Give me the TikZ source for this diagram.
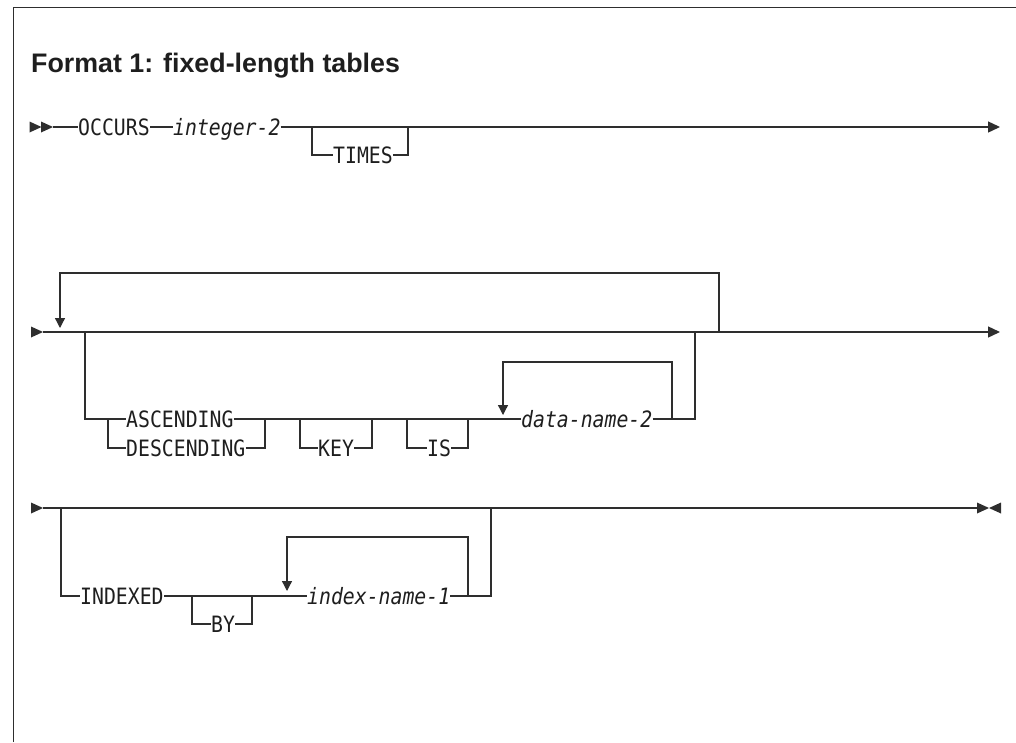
\documentclass[tikz,border=0pt]{standalone}
\usepackage{fontspec}
\setmainfont{Liberation Sans}
\newfontfamily\rrmono[FakeStretch=0.88]{DejaVu Sans Mono}
\usetikzlibrary{arrows.meta}
\definecolor{lc}{HTML}{2E2E2E}
\definecolor{tc}{HTML}{1E1E1E}
\tikzset{
  ln/.style={draw=lc, line width=1.3pt},
  tok/.style={inner sep=0pt, anchor=west, text height=16.4pt, text depth=0pt,
    font=\rrmono\fontsize{22.5}{25}\selectfont, text=tc},
  var/.style={tok, font=\rrmono\itshape\fontsize{22.5}{25}\selectfont},
  endtip/.style={-{Triangle[length=12pt,width=11pt]}},
  looptip/.style={-{Triangle[length=10pt,width=10pt]}},
}
\newcommand\rtri[1]{\fill[lc] (#1) -- ++(-12,-5.5) -- ++(0,11) -- cycle;}
\newcommand\ltri[1]{\fill[lc] (#1) -- ++(12,-5.5) -- ++(0,11) -- cycle;}
\begin{document}
\begin{tikzpicture}[x=1pt,y=-1pt]
\useasboundingbox (0,0) rectangle (1016,742);
% frame
\draw[lc, line width=1.4pt] (13.5,742) -- (13.5,7.5) -- (1016,7.5);
% title
\node[anchor=base west, inner sep=0pt, text=tc, font=\bfseries\fontsize{26.8}{30}\selectfont] (title) at (31,72) {Format 1: fixed-length tables};

% ---------------- row 1 ----------------
\coordinate (r1s) at (53,127);
\rtri{41.5,127}
\rtri{53,127}
\node[tok] (occ) at (78,127) {OCCURS};
\node[var] (int) at (173,127) {integer-2};
\node[tok] (times) at (333,155) {TIMES};
\coordinate (r1e) at (1000,127);
\coordinate (t1) at (312,127);
\coordinate (t2) at (408,127);
\draw[ln] (r1s) -- (occ.west);
\draw[ln] (occ.east) -- (int.west);
\draw[ln, endtip] (int.east) -- (r1e);
\draw[ln] (t1) |- (times.west);
\draw[ln] (times.east) -| (t2);

% ---------------- row 2 ----------------
\rtri{43,332}
\coordinate (r2s) at (43,332);
\coordinate (r2e) at (1000,332);
\draw[ln, endtip] (r2s) -- (r2e);
% outer repeat loop
\coordinate (rl1) at (719,332);
\coordinate (rl2) at (60,328);
\draw[ln, looptip] (rl1) -- (719,273) -- (60,273) -- (rl2);
% ascending / descending
\node[tok] (asc) at (126,419) {ASCENDING};
\node[tok] (desc) at (126,448) {DESCENDING};
\node[tok] (key) at (318,448) {KEY};
\node[tok] (is) at (427,448) {IS};
\node[var] (dn) at (521,419) {data-name-2};
\coordinate (b1) at (85,332);
\coordinate (b2) at (108,419);
\coordinate (b3) at (265,419);
\coordinate (k1) at (300,419);
\coordinate (k2) at (372,419);
\coordinate (i1) at (407,419);
\coordinate (i2) at (468,419);
\coordinate (dl1) at (672,419);
\coordinate (dl2) at (503,415);
\coordinate (b4) at (695,332);
\draw[ln] (b1) |- (asc.west);
\draw[ln] (b2) |- (desc.west);
\draw[ln] (desc.east) -| (b3);
\draw[ln] (asc.east) -- (dn.west);
\draw[ln] (k1) |- (key.west);
\draw[ln] (key.east) -| (k2);
\draw[ln] (i1) |- (is.west);
\draw[ln] (is.east) -| (i2);
\draw[ln, looptip] (dl1) -- (672,362) -- (503,362) -- (dl2);
\draw[ln] (dn.east) -| (b4);

% ---------------- row 3 ----------------
\rtri{43,508}
\coordinate (r3s) at (43,508);
\coordinate (r3e) at (977,508);
\draw[ln] (r3s) -- (r3e);
\rtri{989,508}
\ltri{989,508}
\node[tok] (idx) at (80,596) {INDEXED};
\node[tok] (by) at (211,624) {BY};
\node[var] (ixn) at (307,596) {index-name-1};
\coordinate (c1) at (61,508);
\coordinate (y1) at (192,596);
\coordinate (y2) at (252,596);
\coordinate (il1) at (468,596);
\coordinate (il2) at (287,591);
\coordinate (c2) at (491,508);
\draw[ln] (c1) |- (idx.west);
\draw[ln] (idx.east) -- (ixn.west);
\draw[ln] (y1) |- (by.west);
\draw[ln] (by.east) -| (y2);
\draw[ln, looptip] (il1) -- (468,537) -- (287,537) -- (il2);
\draw[ln] (ixn.east) -| (c2);
\end{tikzpicture}
\end{document}
